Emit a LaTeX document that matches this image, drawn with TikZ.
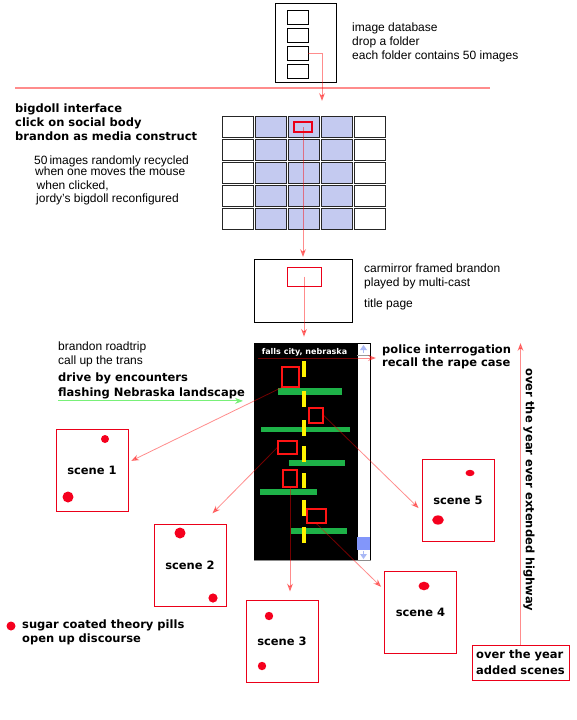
\documentclass[tikz,border=0pt]{standalone}
\usepackage{fontspec}
\setmainfont{Liberation Sans}
\newfontfamily\pixfont{DejaVu Sans}
\usetikzlibrary{arrows.meta,calc}
\definecolor{boxred}{RGB}{235,0,25}
\definecolor{filmred}{RGB}{255,20,20}
\definecolor{dotred}{RGB}{245,0,30}
\definecolor{gridblue}{RGB}{196,202,240}
\definecolor{bargreen}{RGB}{30,178,72}
\definecolor{linkgreen}{RGB}{120,240,120}
\definecolor{thumbblue}{RGB}{130,150,250}
\definecolor{arrowblue}{RGB}{170,185,245}
\definecolor{seppink}{RGB}{255,140,140}
\tikzset{
  txtreg/.style={font=\fontsize{12}{14}\selectfont, inner sep=0pt, anchor=base west},
  txtbold/.style={font=\pixfont\bfseries\fontsize{11.5}{14}\selectfont, inner sep=0pt, anchor=base west},
  blackbox/.style={draw=black, line width=0.9pt, fill=white, inner sep=0pt},
  redrect/.style={draw=boxred, line width=1pt, inner sep=0pt},
  filmrect/.style={draw=filmred, line width=1.4pt, inner sep=0pt},
  scenebox/.style={draw=boxred, line width=0.9pt, fill=white, minimum width=72pt, minimum height=82pt, inner sep=0pt, font=\pixfont\bfseries\fontsize{11.5}{14}\selectfont},
  gridcell/.style={draw=black!85, line width=0.9pt, minimum width=31pt, minimum height=21pt, inner sep=0pt},
  linkarrow/.style={red, opacity=0.45, line width=0.8pt, -{Stealth[length=8pt,width=6pt]}},
  greenarrow/.style={linkgreen, line width=0.9pt, -{Stealth[length=8pt,width=6pt]}},
  reddot/.style={fill=dotred}
}
\begin{document}
\begin{tikzpicture}[x=1pt,y=-1pt]
\useasboundingbox (0,0) rectangle (576,720);
\fill[white] (0,0) rectangle (576,720);

% image database
\node[blackbox, minimum width=61pt, minimum height=79pt] (db) at (305.5,42.5) {};
\foreach \i/\yy in {1/17,2/35,3/53.5,4/71}
  \node[blackbox, minimum width=21pt, minimum height=14pt] (f\i) at (297.5,\yy) {};
\node[txtreg] (dbt1) at (352,31) {image database};
\node[txtreg] (dbt2) at (352,45) {drop a folder};
\node[txtreg] (dbt3) at (352,59) {each folder contains 50 images};

\coordinate (sepl) at (15,88);
\coordinate (sepr) at (490,88);
\draw[seppink, line width=1.4pt] (sepl) -- (sepr);

\coordinate (dbtip) at (322,101);
\draw[linkarrow] (f3.east) -| (dbtip);

% bigdoll texts
\node[txtbold] (bd1) at (15,112.7) {bigdoll interface};
\node[txtbold] (bd2) at (15,126.7) {click on social body};
\node[txtbold] (bd3) at (15,140) {brandon as media construct};
\node[txtreg] (bd4) at (34,164) {50\,images randomly recycled};
\node[txtreg] (bd5) at (35,175) {when one moves the mouse};
\node[txtreg] (bd6) at (36.5,189) {when clicked,};
\node[txtreg] (bd7) at (36,202) {jordy's bigdoll reconfigured};

% grid
\foreach \c in {1,...,5}{
  \foreach \r in {1,...,5}{
    \pgfmathsetmacro{\gx}{237.5+(\c-1)*33}
    \pgfmathsetmacro{\gy}{126.5+(\r-1)*23}
    \ifnum\c=1 \def\gf{white}\else\ifnum\c=5 \def\gf{white}\else\def\gf{gridblue}\fi\fi
    \node[gridcell, fill=\gf] (g\r\c) at (\gx,\gy) {};
  }
}
\node[redrect, line width=1.2pt, minimum width=18pt, minimum height=10pt] (gr) at (303,127) {};

% carmirror
\node[blackbox, minimum width=98pt, minimum height=63pt] (cm) at (303,290.5) {};
\node[redrect, minimum width=34pt, minimum height=19pt] (cmr) at (304,276.5) {};
\node[txtreg] (cmt1) at (364,272.7) {carmirror framed brandon};
\node[txtreg] (cmt2) at (364,286) {played by multi-cast};
\node[txtreg] (cmt3) at (364,307) {title page};
\draw[linkarrow, shorten >=1.5pt] (gr.center) -- (gr.center |- cm.north);

% film strip
\node[fill=black, minimum width=103pt, minimum height=217pt, inner sep=0pt] (film) at (305.5,451.5) {};
\node[draw=black, line width=0.8pt, fill=white, minimum width=13pt, minimum height=217pt, inner sep=0pt] (scroll) at (363.5,451.5) {};
\fill[arrowblue] (360,350) -- (363.5,345) -- (367,350) -- cycle;
\fill[arrowblue] (362.7,350) rectangle (364.3,353);
\draw[black!40, line width=0.5pt] (357,355) -- (370,355);
\fill[thumbblue] (357,537) rectangle (369.5,550);
\fill[arrowblue] (362.7,551) rectangle (364.3,554);
\fill[arrowblue] (360,554) -- (363.5,559) -- (367,554) -- cycle;
\draw[black!45, line width=0.8pt] (254,560.5) -- (370.5,560.5);
\draw[linkarrow, shorten >=6pt] (cmr.center) -- (cmr.center |- film.north);

\node[font=\pixfont\bfseries\fontsize{8}{9}\selectfont, text=white, inner sep=0pt] (fc) at (304.5,352) {falls city, nebraska};

% green bars
\fill[bargreen] (278,388) rectangle (342,395);
\fill[bargreen] (261,427) rectangle (350,431.5);
\fill[bargreen] (289,460) rectangle (345,466);
\fill[bargreen] (260,489) rectangle (317,495);
\fill[bargreen] (291,528) rectangle (347,533.5);
% yellow dashes
\foreach \ya/\yb in {361/377,391/407,420/436,446/462,473/488,500/516,527/543}
  \fill[yellow] (302,\ya) rectangle (305.5,\yb);

% red frames in the strip
\node[filmrect, minimum width=17pt, minimum height=20pt] (r1) at (290.5,377) {};
\node[filmrect, minimum width=14pt, minimum height=15pt] (r2) at (316,415.5) {};
\node[filmrect, minimum width=19pt, minimum height=13pt] (r3) at (287.5,447.5) {};
\node[filmrect, minimum width=14pt, minimum height=17pt] (r4) at (290,478.5) {};
\node[filmrect, minimum width=19pt, minimum height=14pt] (r5) at (316.5,516) {};

% police
\node[txtbold] (pol1) at (382,353) {police interrogation};
\node[txtbold] (pol2) at (382,366) {recall the rape case};
\coordinate (fcstart) at (258,358);
\draw[linkarrow, shorten >=6pt] (fcstart) -- (fcstart -| pol1.west);

% roadtrip
\node[txtreg] (rt1) at (58,350) {brandon roadtrip};
\node[txtreg] (rt2) at (58,364) {call up the trans};
\node[txtbold] (rt3) at (58,381.7) {drive by encounters};
\node[txtbold] (rt4) at (58,396.7) {flashing Nebraska landscape};
\draw[greenarrow] ($(rt4.south west)+(0,1.5)$) -- ($(rt4.south east)+(-2,1.5)$);

% scenes
\node[scenebox] (s1) at (92,470) {scene 1};
\node[scenebox] (s2) at (190,565.5) {scene 2};
\node[scenebox] (s3) at (282,641) {scene 3};
\node[scenebox] (s4) at (420.5,612.5) {scene 4};
\node[scenebox] (s5) at (458,500.5) {scene 5};

\fill[reddot] (105,439) circle (4);
\fill[reddot] (68,497) circle (5.5);
\fill[reddot] (180,533) circle (5.5);
\fill[reddot] (213,598) circle (4.6);
\fill[reddot] (269,616) circle (4.2);
\fill[reddot] (262,666) circle (4.2);
\fill[reddot] (424,586) ellipse [x radius=5.5, y radius=4.3];
\fill[reddot] (470,473) ellipse [x radius=4.5, y radius=3.2];
\fill[reddot] (438,520) ellipse [x radius=5.8, y radius=4.6];

% connectors to scenes
\draw[linkarrow, shorten >=3pt] (r1.south west) -- (s1.12);
\draw[linkarrow, shorten >=4pt] (r2.east) -- (s5.196);
\draw[linkarrow, shorten >=15pt] (r3.west) -- (s2.74);
\draw[linkarrow, shorten >=8pt] (r4.south) -- (r4.south |- s3.north);
\draw[linkarrow, shorten >=4pt] (r5.south) -- (s4.148);

% legend
\fill[reddot] (11,626) circle (4.5);
\node[txtbold] (lg1) at (22,628) {sugar coated theory pills};
\node[txtbold] (lg2) at (22,642) {open up discourse};

% added scenes + highway
\node[redrect, fill=white, minimum width=97pt, minimum height=35pt, align=left,
      font=\pixfont\bfseries\fontsize{11.5}{16}\selectfont] (added) at (520.5,662.5) {over the year\\added scenes};
\coordinate (hwtop) at (521,343);
\draw[linkarrow] (added.north) -- (added.north |- hwtop);
\node[font=\pixfont\bfseries\fontsize{11.5}{14}\selectfont, rotate=-90, inner sep=0pt] (hw) at (529,490) {over the year ever extended highway};
\end{tikzpicture}
\end{document}
